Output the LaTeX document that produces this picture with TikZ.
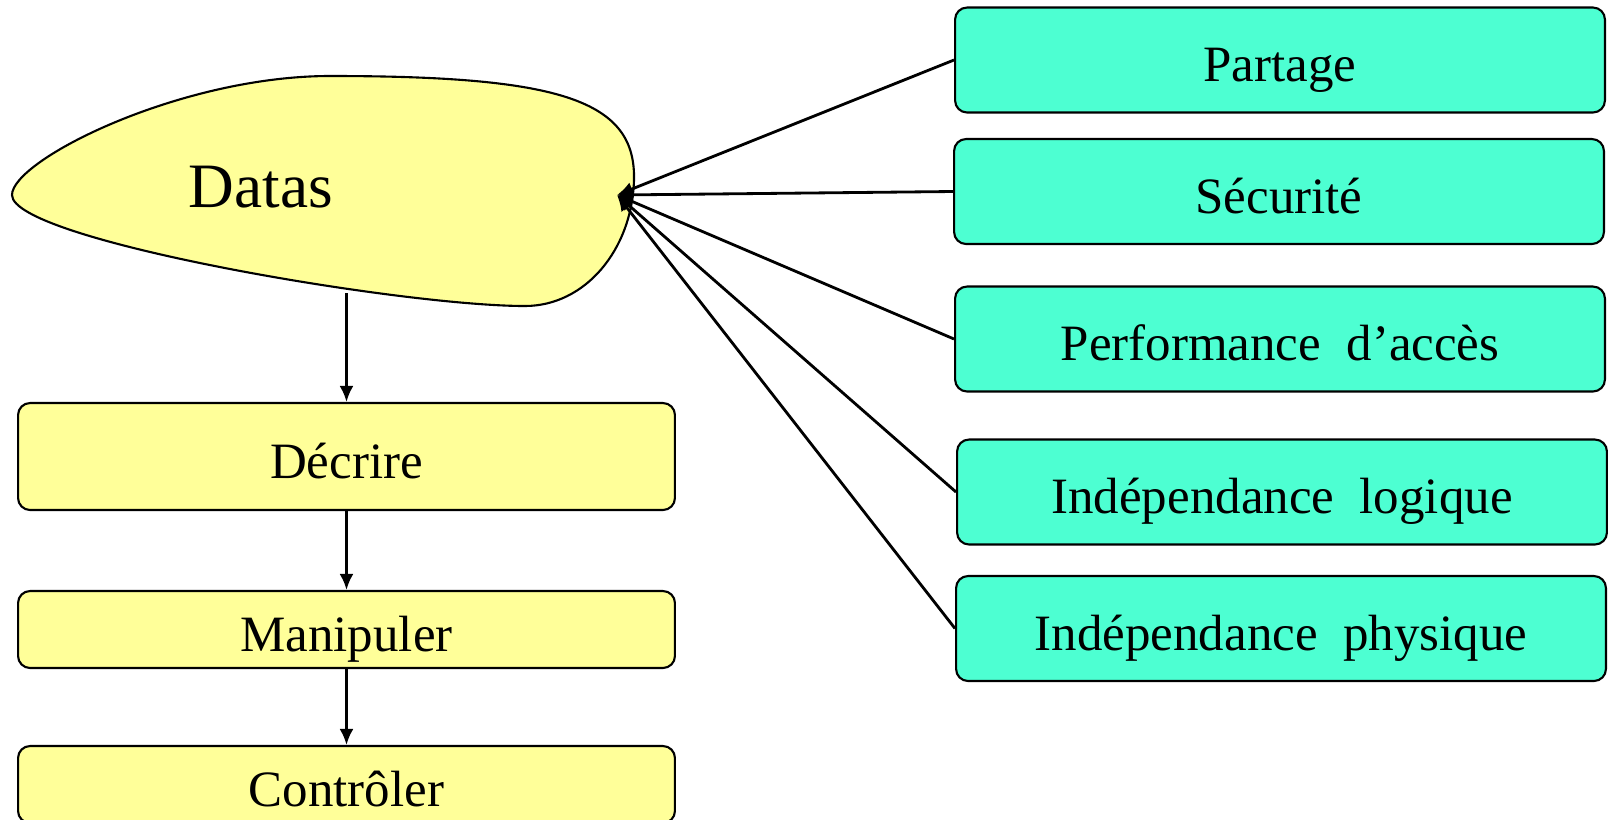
\documentclass[tikz,border=0pt]{standalone}
\usepackage{fontspec}
\setmainfont{Liberation Serif}
\usetikzlibrary{arrows.meta}
\definecolor{jaune}{RGB}{255,255,153}
\definecolor{turquoise}{RGB}{77,255,210}
\begin{document}
\begin{tikzpicture}[x=0.02cm, y=-0.02cm,
        boite/.style={draw, line width=1.2pt, rounded corners=0.24cm, inner sep=0pt, text height=31pt, text depth=6pt, font=\fontsize{29}{34}\selectfont},
        gauche/.style={boite, fill=jaune, minimum width=13.14cm},
        droite/.style={boite, fill=turquoise, minimum width=13cm, minimum height=2.1cm},
        fleche/.style={line width=1.6pt, -{Latex[length=0.32cm, width=0.28cm]}}]
        \useasboundingbox (0,0) rectangle (1608,819);

        \filldraw[fill=jaune, line width=1.2pt] (12,195) .. controls (12,160) and (180,76) .. (330,76)
                .. controls (560,76) and (636,100) .. (634,180)
                .. controls (632,250) and (585,306) .. (525,306)
                .. controls (400,306) and (12,240) .. cycle;
        \node[font=\fontsize{36}{42}\selectfont] (datas) at (261,187) {Datas};
        \coordinate (datasbas) at (346.5,293);
        \coordinate (datasbout) at (617,195);

        \node[gauche, minimum height=2.14cm] (decrire) at (346.5,456.5) {Décrire};
        \node[gauche, minimum height=1.54cm] (manipuler) at (346.5,629.5) {Manipuler};
        \node[gauche, minimum height=1.54cm] (controler) at (346.5,784.5) {Contrôler};

        \node[droite] (partage) at (1280,60) {Partage};
        \node[droite] (securite) at (1279,191.5) {Sécurité};
        \node[droite] (perf) at (1280,339) {Performance~~d’accès};
        \node[droite] (logique) at (1282,492) {Indépendance~~logique};
        \node[droite] (physique) at (1281,628.5) {Indépendance~~physique};

        \draw[fleche] (datasbas) -- (decrire.north);
        \draw[fleche] (decrire) -- (manipuler);
        \draw[fleche] (manipuler) -- (controler);
        \foreach \b in {partage, securite, perf, logique, physique}
                \draw[fleche] (\b.west) -- (datasbout);
\end{tikzpicture}
\end{document}
